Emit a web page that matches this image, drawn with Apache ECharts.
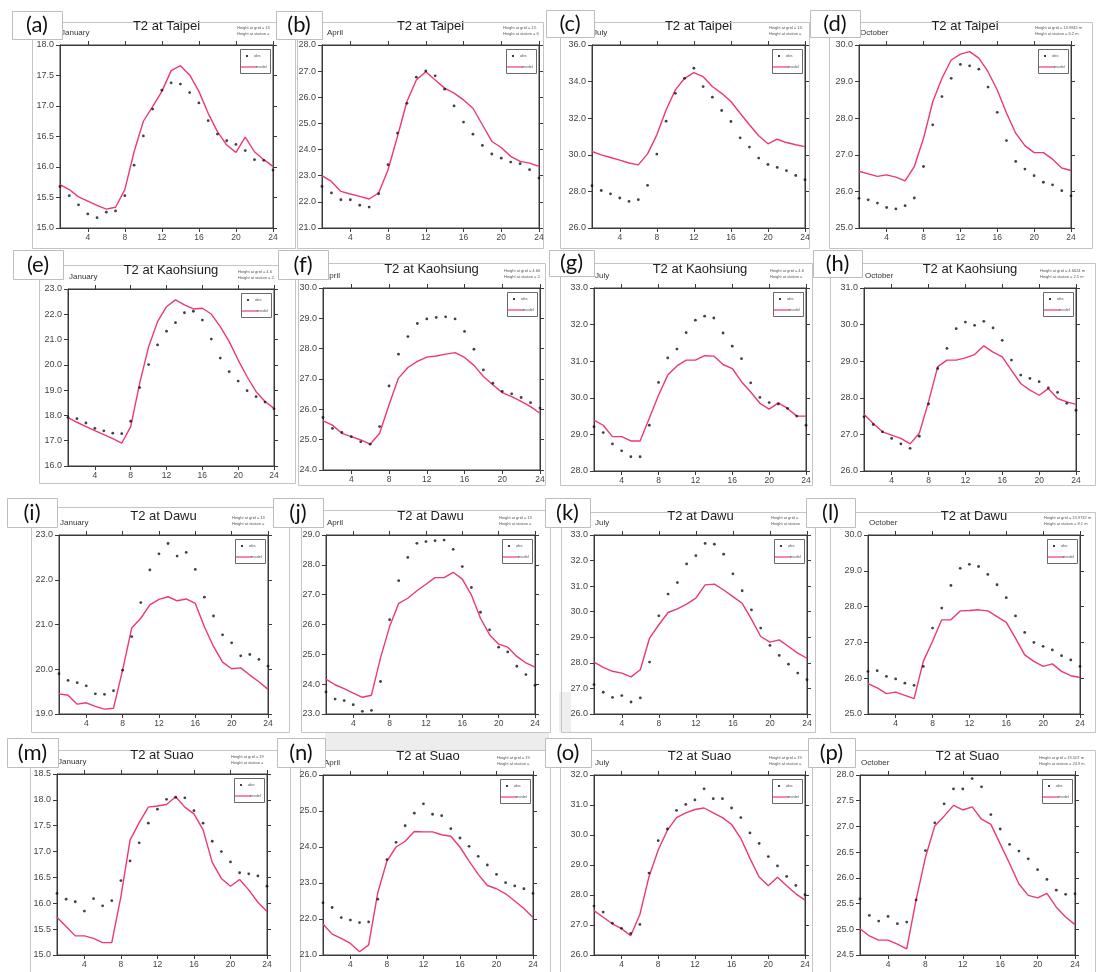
<!DOCTYPE html>
<html>
<head>
<meta charset="utf-8">
<title>T2 diurnal cycle</title>
<script src="https://cdn.jsdelivr.net/npm/echarts@6/dist/echarts.min.js"></script>
<style>
  html, body { margin: 0; padding: 0; background: #ffffff; }
  #chart { width: 1097px; height: 972px; }
</style>
</head>
<body>
<div id="chart"></div>
<script>
// ---- data: hourly 2 m temperature (deg C), observed vs. modelled ----
const hours = [1,2,3,4,5,6,7,8,9,10,11,12,13,14,15,16,17,18,19,20,21,22,23,24];
const hourTicks = [4, 8, 12, 16, 20, 24];
const stations = ['Taipei', 'Kaohsiung', 'Dawu', 'Suao'];
const months = ['January', 'April', 'July', 'October'];
const panelTags = ['(a)','(b)','(c)','(d)','(e)','(f)','(g)','(h)','(i)','(j)','(k)','(l)','(m)','(n)','(o)','(p)'];

const taipeiJanObs   = [15.68,15.53,15.38,15.23,15.17,15.26,15.28,15.53,16.03,16.51,16.95,17.26,17.38,17.36,17.22,17.05,16.76,16.54,16.43,16.37,16.27,16.12,16.11,15.95];
const taipeiJanModel = [15.71,15.63,15.51,15.44,15.37,15.31,15.34,15.63,16.25,16.75,16.99,17.24,17.58,17.66,17.51,17.24,16.88,16.58,16.36,16.24,16.49,16.25,16.12,16.01];
const taipeiAprObs   = [22.59,22.34,22.08,22.08,21.87,21.80,22.31,23.42,24.63,25.77,26.77,27.01,26.82,26.31,25.67,25.05,24.59,24.16,23.83,23.67,23.52,23.46,23.23,22.91];
const taipeiAprModel = [23.00,22.78,22.40,22.30,22.21,22.11,22.34,23.23,24.50,25.84,26.66,26.98,26.66,26.35,26.16,25.90,25.58,24.95,24.31,24.08,23.74,23.55,23.48,23.36];
const taipeiJulObs   = [28.31,28.05,27.87,27.64,27.45,27.55,28.33,30.04,31.84,33.36,34.18,34.73,33.73,33.15,32.42,31.82,30.93,30.42,29.82,29.47,29.31,29.13,28.87,28.64];
const taipeiJulModel = [30.18,30.00,29.85,29.71,29.55,29.45,30.05,31.09,32.45,33.55,34.18,34.49,34.27,33.73,33.36,32.91,32.27,31.64,31.04,30.60,30.85,30.67,30.55,30.45];
const taipeiOctObs   = [25.81,25.77,25.68,25.56,25.52,25.61,25.82,26.68,27.82,28.59,29.09,29.47,29.43,29.34,28.85,28.16,27.39,26.82,26.61,26.43,26.25,26.18,26.02,25.88];
const taipeiOctModel = [26.55,26.48,26.41,26.45,26.39,26.29,26.68,27.45,28.45,29.09,29.59,29.75,29.82,29.64,29.27,28.77,28.14,27.59,27.25,27.06,27.06,26.88,26.64,26.57];

const kaohsiungJanObs   = [17.92,17.87,17.70,17.49,17.39,17.30,17.28,17.77,19.10,20.01,20.79,21.33,21.67,22.06,22.12,21.77,21.02,20.27,19.73,19.36,18.98,18.74,18.53,18.26];
const kaohsiungJanModel = [17.91,17.73,17.56,17.40,17.24,17.08,16.90,17.56,19.27,20.72,21.71,22.30,22.57,22.37,22.21,22.24,22.01,21.51,20.92,20.19,19.53,18.94,18.55,18.28];
const kaohsiungAprObs   = [25.73,25.37,25.24,25.10,24.93,24.85,25.43,26.77,27.82,28.40,28.83,28.98,29.03,29.05,28.98,28.57,27.98,27.30,26.86,26.59,26.51,26.39,26.22,26.04];
const kaohsiungAprModel = [25.62,25.48,25.21,25.10,24.99,24.85,25.21,26.15,27.03,27.38,27.58,27.72,27.76,27.82,27.87,27.71,27.45,27.08,26.81,26.55,26.42,26.26,26.09,25.87];
const kaohsiungJulObs   = [29.21,29.05,28.74,28.55,28.39,28.39,29.25,30.42,31.09,31.33,31.78,32.12,32.23,32.18,31.77,31.41,31.07,30.41,30.01,29.87,29.83,29.71,29.50,29.25];
const kaohsiungJulModel = [29.39,29.25,28.94,28.94,28.82,28.82,29.44,30.07,30.62,30.87,31.03,31.03,31.15,31.14,30.91,30.80,30.44,30.16,29.85,29.69,29.86,29.71,29.50,29.50];
const kaohsiungOctObs   = [27.48,27.27,27.07,26.89,26.74,26.62,26.95,27.83,28.80,29.35,29.89,30.07,29.98,30.09,29.91,29.57,29.03,28.62,28.53,28.44,28.27,28.15,27.85,27.66];
const kaohsiungOctModel = [27.55,27.30,27.07,26.98,26.89,26.74,27.03,27.89,28.85,29.03,29.03,29.09,29.18,29.42,29.25,29.12,28.75,28.39,28.21,28.07,28.25,27.98,27.89,27.82];

const dawuJanObs   = [19.90,19.75,19.70,19.63,19.45,19.44,19.52,19.98,20.73,21.49,22.22,22.58,22.81,22.53,22.61,22.23,21.61,21.19,20.77,20.59,20.30,20.33,20.22,20.07];
const dawuJanModel = [19.45,19.42,19.22,19.25,19.17,19.11,19.13,19.98,20.92,21.14,21.44,21.56,21.62,21.53,21.57,21.47,20.95,20.51,20.16,20.01,20.03,19.87,19.72,19.55];
const dawuAprObs   = [23.74,23.50,23.45,23.31,23.09,23.12,24.09,26.16,27.47,28.25,28.72,28.78,28.81,28.83,28.52,27.94,27.24,26.41,25.82,25.24,25.08,24.60,24.32,23.96];
const dawuAprModel = [24.17,23.98,23.85,23.70,23.56,23.63,24.88,25.93,26.71,26.88,27.13,27.35,27.57,27.57,27.75,27.52,26.99,26.21,25.66,25.34,25.24,24.93,24.71,24.57];
const dawuJulObs   = [27.15,26.85,26.65,26.72,26.47,26.63,28.03,29.84,30.69,31.14,31.87,32.19,32.67,32.64,32.25,31.48,30.82,30.07,29.36,28.68,28.29,27.95,27.60,27.34];
const dawuJulModel = [28.03,27.82,27.67,27.60,27.45,27.73,28.97,29.49,29.97,30.11,30.30,30.53,31.05,31.08,30.85,30.59,30.33,29.71,29.03,28.81,28.90,28.64,28.38,28.18];
const dawuOctObs   = [26.19,26.21,26.05,25.98,25.86,25.80,26.33,27.40,27.96,28.59,29.07,29.18,29.12,28.90,28.61,28.25,27.74,27.28,27.00,26.89,26.79,26.63,26.51,26.33];
const dawuOctModel = [25.85,25.73,25.57,25.61,25.52,25.43,26.47,27.03,27.63,27.63,27.88,27.89,27.91,27.88,27.72,27.56,27.12,26.65,26.47,26.33,26.40,26.19,26.07,26.02];

const suaoJanObs   = [16.19,16.08,16.03,15.85,16.09,15.95,16.05,16.44,16.82,17.17,17.55,17.82,18.01,18.05,18.04,17.79,17.55,17.20,17.00,16.80,16.59,16.57,16.53,16.33];
const suaoJanModel = [15.73,15.55,15.37,15.37,15.32,15.24,15.24,16.13,17.22,17.56,17.86,17.88,17.91,18.06,17.86,17.73,17.42,16.79,16.48,16.33,16.46,16.26,16.02,15.84];
const suaoAprObs   = [22.45,22.32,22.04,21.97,21.90,21.92,22.55,23.65,24.13,24.59,24.94,25.20,24.91,24.87,24.51,24.25,24.02,23.74,23.50,23.24,23.01,22.92,22.84,22.71];
const suaoAprModel = [21.86,21.58,21.46,21.32,21.09,21.28,22.73,23.61,24.00,24.16,24.43,24.42,24.42,24.34,24.30,24.00,23.61,23.24,22.93,22.84,22.70,22.50,22.29,22.04];
const suaoJulObs   = [27.63,27.43,27.06,26.89,26.72,27.02,28.73,29.81,30.20,30.82,31.02,31.17,31.54,31.21,31.21,30.90,30.58,30.07,29.72,29.28,28.97,28.62,28.32,28.01];
const suaoJulModel = [27.48,27.26,27.04,26.88,26.64,27.35,28.62,29.50,30.16,30.58,30.74,30.85,30.90,30.74,30.58,30.35,29.89,29.22,28.60,28.31,28.59,28.31,28.04,27.83];
const suaoOctObs   = [25.59,25.27,25.16,25.25,25.11,25.14,25.57,26.53,27.07,27.44,27.73,27.73,27.93,27.77,27.23,26.95,26.65,26.52,26.37,26.16,25.97,25.76,25.68,25.69];
const suaoOctModel = [25.01,24.87,24.79,24.79,24.71,24.62,25.57,26.40,27.01,27.20,27.41,27.32,27.38,27.14,27.04,26.66,26.28,25.88,25.66,25.61,25.70,25.43,25.24,25.09];

// temperature axis range and tick step for each panel, (a) ... (p)
const yMin  = [15, 21, 26, 25,   16, 24, 28, 26,   19, 23, 26, 25,   15,   21, 26, 24.5];
const yMax  = [18, 28, 36, 30,   23, 30, 33, 31,   23, 29, 33, 30,   18.5, 26, 32, 28];
const yStep = [0.5, 1, 2, 1,     1, 1, 1, 1,       1, 1, 1, 1,       0.5,  1, 1, 0.5];

// grid / station height notes printed in each panel's corner
const heightNotes = [
  ['Height at grid = 13', 'Height at station ='],
  ['Height at grid = 13.', 'Height at station = 6'],
  ['Height at grid = 13.', 'Height at station ='],
  ['Height at grid = 13.9845 m', 'Height at station = 6.2 m'],
  ['Height at grid = 4.6', 'Height at station = 2.'],
  ['Height at grid = 4.66', 'Height at station = 2.'],
  ['Height at grid = 4.6', 'Height at station ='],
  ['Height at grid = 4.6624 m', 'Height at station = 2.5 m'],
  ['Height at grid = 13', 'Height at station ='],
  ['Height at grid = 13', 'Height at station ='],
  ['Height at grid =', 'Height at station'],
  ['Height at grid = 13.9732 m', 'Height at station = 8.1 m'],
  ['Height at grid = 19', 'Height at station ='],
  ['Height at grid = 19', 'Height at station ='],
  ['Height at grid = 19', 'Height at station ='],
  ['Height at grid = 19.507 m', 'Height at station = 24.9 m']
];

const obsSets = [
  taipeiJanObs, taipeiAprObs, taipeiJulObs, taipeiOctObs,
  kaohsiungJanObs, kaohsiungAprObs, kaohsiungJulObs, kaohsiungOctObs,
  dawuJanObs, dawuAprObs, dawuJulObs, dawuOctObs,
  suaoJanObs, suaoAprObs, suaoJulObs, suaoOctObs
];
const modelSets = [
  taipeiJanModel, taipeiAprModel, taipeiJulModel, taipeiOctModel,
  kaohsiungJanModel, kaohsiungAprModel, kaohsiungJulModel, kaohsiungOctModel,
  dawuJanModel, dawuAprModel, dawuJulModel, dawuOctModel,
  suaoJanModel, suaoAprModel, suaoJulModel, suaoOctModel
];

// ---- layout (pixels): plot area [left, top, right, bottom] per panel ----
const plotBoxes = [
  [60, 45, 273, 228],  [322, 45, 539, 228],  [592, 45, 805, 228],  [859, 45, 1071, 228],
  [68, 289, 274, 466], [323, 288, 540, 470], [594, 288, 806, 471], [864, 288, 1076, 471],
  [59, 535, 268, 714], [326, 535, 535, 714], [594, 535, 807, 714], [868, 535, 1080, 714],
  [57, 774, 267, 955], [323, 775, 533, 955], [594, 775, 805, 955], [860, 775, 1075, 955]
];
// light outline around every sub-figure
const frameBoxes = [
  [32, 22, 295, 248],  [297, 22, 543, 248],  [560, 22, 809, 248],  [829, 22, 1092, 248],
  [39, 265, 295, 483], [298, 263, 545, 485], [560, 263, 812, 485], [830, 263, 1095, 485],
  [31, 507, 289, 732], [301, 510, 550, 732], [561, 512, 815, 732], [830, 512, 1095, 732],
  [30, 750, 290, 990], [300, 750, 550, 990], [560, 750, 812, 990], [830, 750, 1095, 990]
];
// boxes holding the panel letters
const tagBoxes = [
  [12, 11, 62, 39],   [276, 11, 322, 39],  [546, 10, 594, 37],  [810, 10, 860, 37],
  [13, 250, 63, 279], [278, 250, 328, 279], [549, 250, 594, 276], [813, 250, 862, 277],
  [7, 498, 57, 527],  [273, 498, 323, 527], [545, 498, 590, 527], [806, 498, 855, 527],
  [7, 738, 58, 767],  [277, 738, 325, 767], [545, 738, 591, 767], [808, 738, 855, 767]
];
// month caption offset from the plot's left edge
const monthShift = [1, 5, 1, 1,  1, 1, 1, 1,  1, 1, 1, 1,  1, 1, 1, 1];

const MODEL_COLOR = '#ee3874';
const AXIS_COLOR = '#3a3a3a';
const LABEL_COLOR = '#444444';
const SANS = '"Liberation Sans", Arial, sans-serif';

const grids = [], xAxes = [], yAxes = [], series = [], graphics = [];

// faint grey smudges along the bottom row's frames
graphics.push({
  type: 'rect', z: 0, silent: true,
  shape: { x: 325, y: 733, width: 224, height: 17 },
  style: { fill: '#ededed' }
});
graphics.push({
  type: 'rect', z: 0, silent: true,
  shape: { x: 559, y: 692, width: 12, height: 40 },
  style: { fill: '#eeeeee' }
});

plotBoxes.forEach((b, i) => {
  const [l, t, r, btm] = b;
  grids.push({
    left: l, top: t, width: r - l, height: btm - t,
    show: true, borderColor: AXIS_COLOR, borderWidth: 1, backgroundColor: 'transparent',
    containLabel: false, outerBoundsMode: 'none'
  });

  const tickStyle = { show: true, length: 4, inside: false, lineStyle: { color: AXIS_COLOR, width: 1 } };

  // bottom hour axis with labels
  xAxes.push({
    type: 'value', gridIndex: i, position: 'bottom', min: 1, max: 24,
    axisLine: { show: true, lineStyle: { color: AXIS_COLOR, width: 1 } },
    axisTick: Object.assign({ customValues: hourTicks }, tickStyle),
    axisLabel: { show: true, customValues: hourTicks, color: LABEL_COLOR, fontSize: 8.5, fontFamily: SANS, margin: 5 },
    splitLine: { show: false }
  });
  // mirrored top axis, ticks only
  xAxes.push({
    type: 'value', gridIndex: i, position: 'top', min: 1, max: 24,
    axisLine: { show: true, lineStyle: { color: AXIS_COLOR, width: 1 } },
    axisTick: Object.assign({ customValues: hourTicks }, tickStyle),
    axisLabel: { show: false, customValues: hourTicks },
    splitLine: { show: false }
  });
  // left temperature axis with labels
  yAxes.push({
    type: 'value', gridIndex: i, position: 'left',
    min: yMin[i], max: yMax[i], interval: yStep[i],
    axisLine: { show: true, lineStyle: { color: AXIS_COLOR, width: 1 } },
    axisTick: tickStyle,
    axisLabel: { show: true, color: LABEL_COLOR, fontSize: 9, fontFamily: SANS, margin: 6,
                 formatter: v => v.toFixed(1) },
    splitLine: { show: false }
  });
  // mirrored right axis, ticks only
  yAxes.push({
    type: 'value', gridIndex: i, position: 'right',
    min: yMin[i], max: yMax[i], interval: yStep[i],
    axisLine: { show: true, lineStyle: { color: AXIS_COLOR, width: 1 } },
    axisTick: tickStyle,
    axisLabel: { show: false },
    splitLine: { show: false }
  });

  series.push({
    name: 'model', type: 'line', xAxisIndex: 2 * i, yAxisIndex: 2 * i,
    data: hours.map((h, k) => [h, modelSets[i][k]]),
    showSymbol: false, smooth: false, z: 3,
    lineStyle: { color: MODEL_COLOR, width: 1.4 }, itemStyle: { color: MODEL_COLOR }
  });
  series.push({
    name: 'obs', type: 'scatter', xAxisIndex: 2 * i, yAxisIndex: 2 * i,
    data: hours.map((h, k) => [h, obsSets[i][k]]),
    symbol: 'circle', symbolSize: 2.8, z: 4,
    itemStyle: { color: '#111111' }
  });

  const station = stations[Math.floor(i / 4)];
  const month = months[i % 4];
  const cx = (l + r) / 2;

  // outline of the sub-figure
  const f = frameBoxes[i];
  graphics.push({
    type: 'rect', z: 0, silent: true,
    shape: { x: f[0] + 0.5, y: f[1] + 0.5, width: f[2] - f[0], height: f[3] - f[1] },
    style: { fill: 'none', stroke: '#c4c4c4', lineWidth: 1 }
  });
  // title, month and height notes above the plot
  graphics.push({
    type: 'text', z: 10, silent: true, x: cx, y: t - 19,
    style: { text: 'T2 at ' + station, fill: '#1e1e1e', fontSize: 13, fontFamily: SANS,
             align: 'center', verticalAlign: 'middle', textAlign: 'center', textVerticalAlign: 'middle' }
  });
  graphics.push({
    type: 'text', z: 10, silent: true, x: l + monthShift[i], y: t - 12,
    style: { text: month, fill: '#333333', fontSize: 8, fontFamily: SANS,
             align: 'left', verticalAlign: 'middle', textAlign: 'left', textVerticalAlign: 'middle' }
  });
  heightNotes[i].forEach((line, k) => {
    graphics.push({
      type: 'text', z: 10, silent: true, x: r - 36, y: t - 17 + k * 6,
      style: { text: line, fill: '#555555', fontSize: 4, fontFamily: SANS,
               align: 'left', verticalAlign: 'middle', textAlign: 'left', textVerticalAlign: 'middle' }
    });
  });

  // legend box in the upper-right corner of the plot
  const bx = r - 33, by = t + 4;
  graphics.push({
    type: 'rect', z: 20, silent: true,
    shape: { x: bx + 0.5, y: by + 0.5, width: 30, height: 24 },
    style: { fill: '#ffffff', stroke: '#444444', lineWidth: 0.8 }
  });
  graphics.push({ type: 'circle', z: 21, silent: true, shape: { cx: bx + 7, cy: by + 7, r: 1.1 }, style: { fill: '#111111' } });
  graphics.push({
    type: 'text', z: 21, silent: true, x: bx + 14, y: by + 7,
    style: { text: 'obs', fill: '#555555', fontSize: 4, fontFamily: SANS,
             align: 'left', verticalAlign: 'middle', textAlign: 'left', textVerticalAlign: 'middle' }
  });
  graphics.push({ type: 'line', z: 21, silent: true, shape: { x1: bx + 1, y1: by + 18, x2: bx + 17, y2: by + 18 }, style: { stroke: MODEL_COLOR, lineWidth: 1.2 } });
  graphics.push({
    type: 'text', z: 21, silent: true, x: bx + 16, y: by + 18,
    style: { text: 'model', fill: '#555555', fontSize: 4, fontFamily: SANS,
             align: 'left', verticalAlign: 'middle', textAlign: 'left', textVerticalAlign: 'middle' }
  });

  // panel letter in its own box, covering the outline corner
  const tb = tagBoxes[i];
  graphics.push({
    type: 'rect', z: 30, silent: true,
    shape: { x: tb[0] + 0.5, y: tb[1] + 0.5, width: tb[2] - tb[0], height: tb[3] - tb[1] },
    style: { fill: '#ffffff', stroke: '#bdbdbd', lineWidth: 1 }
  });
  graphics.push({
    type: 'text', z: 31, silent: true, x: (tb[0] + tb[2]) / 2, y: (tb[1] + tb[3]) / 2,
    style: { text: panelTags[i], fill: '#111111', fontSize: 22, fontFamily: 'Lato, "Open Sans", sans-serif',
             align: 'center', verticalAlign: 'middle', textAlign: 'center', textVerticalAlign: 'middle' }
  });
});

const chart = echarts.init(document.getElementById('chart'), null, { renderer: 'canvas' });
chart.setOption({
  backgroundColor: '#ffffff',
  animation: false,
  grid: grids,
  xAxis: xAxes,
  yAxis: yAxes,
  series: series,
  graphic: { elements: graphics }
});
</script>
</body>
</html>
